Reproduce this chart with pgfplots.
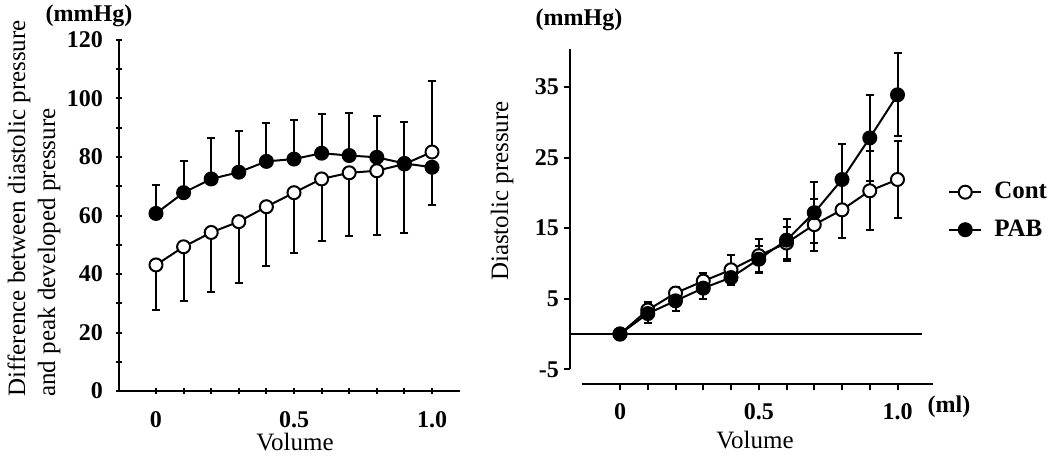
\documentclass[border=0pt]{standalone}
\usepackage{fontspec}
\setmainfont{Liberation Serif}
\usepackage{pgfplots}
\usepackage{pgfplotstable}
\pgfplotsset{compat=1.18}

% left panel: difference between diastolic and peak developed pressure
\pgfplotstableread{
x    y     ep    em
0    43.1  0     15.5
0.1  49.3  0     18.5
0.2  54.2  0     20.4
0.3  57.9  0     20.9
0.4  63.0  0     20.2
0.5  67.8  0     20.7
0.6  72.5  0     21.1
0.7  74.6  0     21.7
0.8  75.3  0     21.9
0.9  77.6  0     23.7
1.0  81.7  24.3  0
}\leftcont
\pgfplotstableread{
x    y     ep    em
0    60.7  9.7   0
0.1  67.8  10.9  0
0.2  72.5  13.9  0
0.3  74.8  14.1  0
0.4  78.5  13.0  0
0.5  79.3  13.3  0
0.6  81.3  13.4  0
0.7  80.5  14.7  0
0.8  79.9  14.2  0
0.9  77.8  14.2  0
1.0  76.5  0     12.8
}\leftpab
% right panel: diastolic pressure
\pgfplotstableread{
x    y     e
0    0     0
0.1  3.4   1.1
0.2  5.8   0.9
0.3  7.5   1.2
0.4  9.1   2.1
0.5  11.1  2.4
0.6  12.9  2.3
0.7  15.5  3.7
0.8  17.6  4.0
0.9  20.3  5.6
1.0  21.9  5.4
}\rightcont
\pgfplotstableread{
x    y     e
0    0     0
0.1  2.9   1.4
0.2  4.7   1.4
0.3  6.5   1.5
0.4  8.0   0.6
0.5  10.6  1.85
0.6  13.3  3.0
0.7  17.2  4.3
0.8  21.9  5.0
0.9  27.8  6.1
1.0  33.9  5.9
}\rightpab

\pgfplotsset{
  panel/.style={
    scale only axis, clip=false,
    tick align=outside,
    major tick length=3pt, minor tick length=3pt,
    tick style={black, line width=1pt},
    tick label style={font=\bfseries\fontsize{12}{12}\selectfont},
    /pgf/number format/assume math mode=true,
    xtick={0,0.5,1}, xticklabels={0,0.5,1.0},
    minor x tick num=4,
  },
  series/.style={
    black, line width=1pt, mark=*, mark size=3.25pt,
    error bars/y dir=both, error bars/y explicit,
    error bars/error mark=-,
    error bars/error bar style={line width=1pt, black},
    error bars/error mark options={rotate=90, mark size=2pt, line width=1pt, black},
  },
  cont/.style={series, mark options={fill=white, draw=black, line width=1pt}},
  pab/.style={series, mark options={fill=black, draw=black}},
}

\begin{document}
\begin{tikzpicture}
\useasboundingbox (0,0) rectangle (525pt,228pt);

\begin{axis}[panel,
  at={(59.5pt,32.5pt)}, anchor=south west,
  width=170.5pt, height=175.5pt,
  axis x line=bottom, axis y line=left,
  x axis line style={-, line width=1pt},
  y axis line style={-, line width=1pt},
  xmin=-0.134, xmax=1.1014, ymin=0, ymax=120,
  ytick={0,20,...,120}, minor y tick num=1,
  yticklabel style={xshift=-3pt},
  xticklabel style={yshift=-5pt},
]
\addplot[cont] table[x=x, y=y, y error plus=ep, y error minus=em] {\leftcont};
\addplot[pab] table[x=x, y=y, y error plus=ep, y error minus=em] {\leftpab};
\end{axis}

\begin{axis}[panel,
  at={(284.75pt,35.85pt)}, anchor=south west,
  width=181.9pt, height=167.65pt,
  axis x line*=bottom, axis y line*=left,
  axis line style={draw=none},
  xmin=-0.182, xmax=1.129, ymin=-7.13, ymax=40.4,
  ytick={-5,5,15,25,35},
  yticklabel style={xshift=1.25pt},
  xticklabel style={yshift=-2.85pt},
  legend style={at={(axis description cs:1.040,0.517)}, anchor=west,
    draw=none, fill=none, inner sep=0pt, row sep=5pt,
    font=\bfseries\fontsize{12.5}{12.5}\selectfont,
    /tikz/every odd column/.append style={column sep=4pt}},
  legend cell align=left,
  legend image code/.code={\draw[mark repeat=2, mark phase=2, #1]
    plot coordinates {(0pt,0pt) (8pt,0pt) (16pt,0pt)};},
]
\draw[line width=1pt] (axis cs:-0.182,-5) -- (axis cs:-0.182,40.4);
\draw[line width=1pt] (axis cs:-0.138,-7.13) -- (axis cs:1.129,-7.13);
\draw[line width=1pt] (axis cs:-0.182,0) -- (axis cs:1.087,0);
\addplot[cont] table[x=x, y=y, y error=e] {\rightcont};
\addlegendentry{Cont}
\addplot[pab] table[x=x, y=y, y error=e] {\rightpab};
\addlegendentry{PAB}
\end{axis}

\node[font=\bfseries\fontsize{12}{12}\selectfont] at (44.5pt,220pt) {(mmHg)};
\node[font=\bfseries\fontsize{12}{12}\selectfont] at (289.5pt,218pt) {(mmHg)};
\node[rotate=90, anchor=west, align=left, inner sep=0pt,
  font=\fontsize{12.5}{15}\selectfont] at (17pt,29.5pt)
  {Difference between diastolic pressure\\and peak developed pressure};
\node[rotate=90, font=\fontsize{12.5}{15}\selectfont] at (251pt,132.5pt) {Diastolic pressure};
\node[anchor=base, font=\fontsize{12.5}{15}\selectfont] at (147.5pt,3pt) {Volume};
\node[anchor=base, font=\fontsize{12.5}{15}\selectfont] at (377.5pt,3.85pt) {Volume};
\node[font=\bfseries\fontsize{12}{12}\selectfont] at (474.5pt,24.5pt) {(ml)};
\end{tikzpicture}
\end{document}
